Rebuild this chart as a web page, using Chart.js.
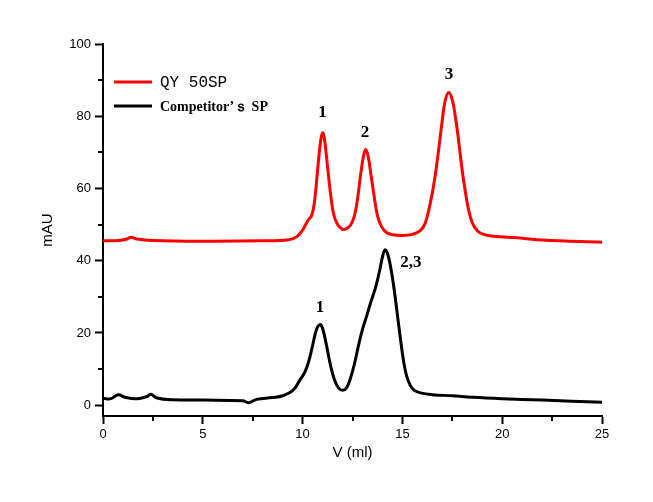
<!DOCTYPE html>
<html>
<head>
<meta charset="utf-8">
<script src="https://cdn.jsdelivr.net/npm/chart.js@4"></script>
<style>
  html, body { margin: 0; padding: 0; background: #fff; }
  #wrap { width: 653px; height: 502px; }
</style>
</head>
<body>
<div id="wrap"><canvas id="chart_sec"></canvas></div>
<script>
// QY 50SP trace (V in ml, signal in mAU)
const qyV = [0, 0.8, 1.2, 1.4, 1.7, 2.5, 5, 8, 9.3, 9.7, 10.0, 10.25, 10.46, 10.6, 10.75, 10.9, 11.0, 11.1, 11.25, 11.4, 11.55, 11.75, 12.0, 12.2, 12.4, 12.6, 12.75, 12.9, 13.05, 13.16, 13.28, 13.42, 13.58, 13.75, 13.95, 14.2, 14.5, 15.0, 15.5, 15.9, 16.15, 16.4, 16.6, 16.8, 17.0, 17.15, 17.33, 17.5, 17.65, 17.8, 17.95, 18.1, 18.3, 18.5, 18.75, 19.1, 19.6, 20.3, 20.9, 22, 25];
const qyAU = [45.5, 45.6, 46.0, 46.5, 46.0, 45.6, 45.4, 45.5, 45.8, 46.6, 48.5, 51.0, 52.6, 56.5, 65, 73, 75.4, 73.5, 66, 58.5, 53, 50, 48.7, 48.9, 49.8, 52.5, 57, 63.5, 69, 70.8, 69, 64, 58, 52.5, 49.5, 47.8, 47.2, 47.0, 47.3, 48.3, 50.5, 56, 62, 70, 79, 84.5, 86.6, 84.5, 80, 74, 67, 61, 54.5, 50.5, 48.3, 47.2, 46.8, 46.5, 46.3, 45.7, 45.1];

// Competitor's SP trace
const compV = [0, 0.4, 0.75, 1.1, 1.7, 2.2, 2.4, 2.7, 3.5, 5, 7.0, 7.3, 7.7, 8.5, 9.0, 9.5, 9.87, 10.1, 10.3, 10.5, 10.7, 10.87, 11.0, 11.2, 11.4, 11.6, 11.8, 12.0, 12.2, 12.4, 12.6, 12.8, 13.0, 13.2, 13.4, 13.65, 13.85, 14.0, 14.13, 14.28, 14.45, 14.6, 14.75, 14.9, 15.05, 15.2, 15.4, 15.6, 15.9, 16.5, 17.5, 18.5, 20, 22, 25];
const compAU = [1.9, 1.8, 2.9, 2.2, 1.8, 2.4, 3.0, 2.0, 1.5, 1.4, 1.2, 0.7, 1.6, 2.1, 2.6, 4.0, 7.0, 9, 12, 16.5, 21, 22.3, 21.3, 16.5, 11, 7, 4.8, 4.1, 4.8, 7.5, 11.5, 16.5, 21, 24.5, 28.2, 32.5, 37, 41, 43.0, 41.5, 37, 31.5, 25, 18.5, 12.5, 8.3, 5.4, 4.1, 3.4, 2.9, 2.6, 2.2, 1.8, 1.4, 0.8];

// peak labels
const peakText = ['1', '2', '3', '1', '2,3'];
const peakV = [11.0, 13.13, 17.33, 10.87, 15.43];
const peakAU = [81.1, 75.6, 91.4, 26.9, 39.4];

const xTicks = [0, 5, 10, 15, 20, 25];
const xMinor = [2.5, 7.5, 12.5, 17.5, 22.5];
const yTicks = [0, 20, 40, 60, 80, 100];
const yMinor = [10, 30, 50, 70, 90];

const seriesNames = ['QY 50SP', 'Competitor\u2019\uFF53 SP'];

const toPoints = (xs, ys) => xs.map((x, i) => ({ x, y: ys[i] }));

const minorTicks = {
    id: 'minorTicks',
    afterDraw(chart) {
        const { ctx, chartArea, scales: { x, y } } = chart;
        ctx.save();
        ctx.strokeStyle = '#000';
        ctx.lineWidth = 2;
        ctx.beginPath();
        xMinor.forEach((v) => {
            const px = Math.round(x.getPixelForValue(v));
            ctx.moveTo(px, chartArea.bottom);
            ctx.lineTo(px, chartArea.bottom + 5);
        });
        yMinor.forEach((v) => {
            const py = Math.round(y.getPixelForValue(v));
            ctx.moveTo(chartArea.left, py);
            ctx.lineTo(chartArea.left - 5, py);
        });
        ctx.stroke();
        ctx.restore();
    },
};

const peakLabels = {
    id: 'peakLabels',
    afterDatasetsDraw(chart) {
        const { ctx, scales: { x, y } } = chart;
        ctx.save();
        ctx.fillStyle = '#000';
        ctx.font = 'bold 17px "Liberation Serif", "Times New Roman", serif';
        ctx.textAlign = 'center';
        ctx.textBaseline = 'middle';
        peakText.forEach((t, i) => {
            ctx.fillText(t, x.getPixelForValue(peakV[i]), y.getPixelForValue(peakAU[i]));
        });
        ctx.restore();
    },
};

const boxLegend = {
    id: 'boxLegend',
    afterDraw(chart) {
        const { ctx } = chart;
        const colors = ['#ff0000', '#000000'];
        const fonts = ['16px "Liberation Mono", monospace', 'bold 14px "Liberation Serif", serif'];
        const rows = [82, 106];
        ctx.save();
        rows.forEach((ry, i) => {
            ctx.strokeStyle = colors[i];
            ctx.lineWidth = 3;
            ctx.beginPath();
            ctx.moveTo(114, ry);
            ctx.lineTo(152, ry);
            ctx.stroke();
            ctx.fillStyle = '#000';
            ctx.font = fonts[i];
            ctx.textAlign = 'left';
            ctx.textBaseline = 'middle';
            ctx.fillText(seriesNames[i], 160, ry + 1);
        });
        ctx.restore();
    },
};

const tickFont = { family: '"Liberation Sans", Arial, sans-serif', size: 13 };
const titleFont = { family: '"Liberation Sans", Arial, sans-serif', size: 15 };

new Chart(document.getElementById('chart_sec'), {
    type: 'line',
    data: {
        datasets: [
            {
                label: seriesNames[0],
                data: toPoints(qyV, qyAU),
                borderColor: '#ff0000',
                borderWidth: 3,
                pointRadius: 0,
                tension: 0.4,
            },
            {
                label: seriesNames[1],
                data: toPoints(compV, compAU),
                borderColor: '#000000',
                borderWidth: 3,
                pointRadius: 0,
                tension: 0.4,
            },
        ],
    },
    options: {
        responsive: true,
        maintainAspectRatio: false,
        animation: false,
        layout: { padding: { left: 35, top: 44, right: 51, bottom: 36 } },
        scales: {
            x: {
                type: 'linear',
                min: 0,
                max: 25,
                afterBuildTicks: (scale) => { scale.ticks = xTicks.map((value) => ({ value })); },
                afterFit: (scale) => { scale.height = 50; },
                border: { display: true, color: '#000', width: 2 },
                grid: { drawOnChartArea: false, drawTicks: true, tickLength: 8, tickWidth: 2, tickColor: '#000' },
                ticks: { color: '#000', font: tickFont, padding: 3, maxRotation: 0 },
                title: { display: true, text: 'V (ml)', color: '#000', font: titleFont, padding: 4 },
            },
            y: {
                min: -3,
                max: 100,
                afterBuildTicks: (scale) => { scale.ticks = yTicks.map((value) => ({ value })); },
                afterFit: (scale) => { scale.width = 68; },
                border: { display: true, color: '#000', width: 2 },
                grid: { drawOnChartArea: false, drawTicks: true, tickLength: 8, tickWidth: 2, tickColor: '#000' },
                ticks: { color: '#000', font: tickFont, padding: 4 },
                title: { display: true, text: 'mAU', color: '#000', font: titleFont, padding: 4 },
            },
        },
        plugins: {
            legend: { display: false },
            title: { display: false },
            tooltip: { enabled: false },
        },
    },
    plugins: [minorTicks, peakLabels, boxLegend],
});
</script>
</body>
</html>
